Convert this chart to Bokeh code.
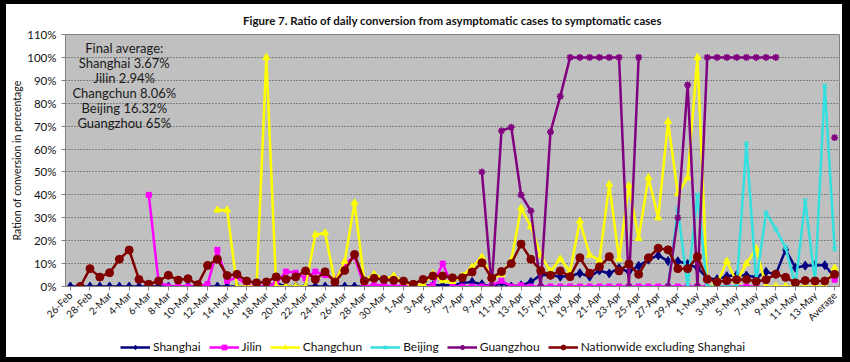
import math
import numpy as np
import pandas as pd
from bokeh.plotting import figure
from bokeh.layouts import column
from bokeh.models import (Range1d, FixedTicker, PrintfTickFormatter, Legend,
                          LegendItem, ColumnDataSource)
from bokeh.core.properties import value
from bokeh.embed import file_html
from bokeh.resources import INLINE

N = None
dates = [f"{d.day}-{d.strftime('%b')}" for d in pd.date_range("2022-02-26", "2022-05-14")]
categories = dates + ["Average"]

shanghai = [0]*21 + [1.5] + [0]*14 + [0.5, 0.5, 0.5, 0.5,
            1.5, 2, 1, 0, 1.5, 0, 0.5, 2,
            5, 5, 4.3, 4.6, 5.8, 4.3, 7, 5.7, 8, 6.4, 9, 11.7, 13.6, 11.1, 11, 9.8, 8.2,
            3.5, 3.2, 4.5, 5, 4.8, 4, 6.4, 5.3, 16, 8.2, 9.1, 9.3, 9.3, 4]

jilin = [N]*8 + [40, 2, 0, 0, 0, 0, 1, 16, 2.4, 4,
         0.5, 0, 0, 1.5, 6.5, 6, 3.5, 6.5, 5, 3,
         10, 13, 0, 0.5, 0.5, 0, 0.5, 0, 0, 0.5,
         10, 0, 0, 0, 0, 0.5, 2.5, 0, 0.5, 0] + [0]*23 + [N]*7 + [2.94]

changchun = [N]*15 + [33.4, 33.4, 0, 0, 0, 100, 0, 0, 0, 0,
             22.6, 23.4, 2, 11, 36.5, 2.5, 5.3, 3.2, 4.6, 2,
             0, 1, 5.6, 2.5, 2.2, 4.6, 8.5, 12.8, 3.5, 5.3,
             11.5, 34.2, 26.2, 13.6, 6.5, 12, 6.5, 28.6, 13.7, 11.5,
             44.6, 12, 44, 21, 47.5, 30, 72, 40.5, 47.5, 100,
             0, 1, 11, 2, 10, 16.5] + [0]*7 + [8.06]

beijing = [N]*61 + [0, 33.7, 0, 40, 0, 0, 0, 0, 62.4, 2, 32.2, 25, 17, 0.5,
                    37.5, 2, 87.5, 16.32]

guangzhou = [N]*42 + [50, 0, 68, 69.5, 40, 33, 0, 67.5, 83, 100, 100, 100, 100,
                      100, 100, 0, 100, N, N, 0, 30, 88, 0] + [100]*8 + [N]*5 + [65]

nationwide = [N, 0, 7.8, 4.1, 6, 11.9, 15.9, 3.1, 1, 2.4,
              4.9, 2.8, 3.4, 0.8, 9.2, 11.9, 4.8, 5.3, 2.4, 1.6,
              2, 4.2, 3.2, 4.2, 6.8, 3.1, 6.4, 2, 7, 14,
              2.4, 3.6, 3.1, 2.7, 2.4, 1, 3.1, 4.6, 4.6, 3.8,
              3.8, 6.3, 10.4, 3.7, 6.5, 10, 18.5, 11.9, 6.9, 4.9,
              6.8, 4.3, 12.6, 5.8, 8.6, 13, 6.8, 9.8, 5.3, 12.5,
              16.7, 16, 7.8, 7.8, 13, 3.2, 2, 2.6, 3, 3.1,
              2.2, 3, 5.4, 4, 1.6, 2.6, 2.4, 2.4, 5.3]

series_names = ["Shanghai", "Jilin", "Changchun", "Beijing", "Guangzhou",
                "Nationwide excluding Shanghai"]
series_values = [shanghai, jilin, changchun, beijing, guangzhou, nationwide]
series_colors = ["#000080", "#FF00FF", "#FFFF00", "#33E0E0", "#800080", "#800000"]
series_markers = ["diamond", "square", "triangle", "x", "asterisk", "circle"]
series_sizes = [9, 5, 7, 6, 7, 8]

annot_lines = ["Final average:", "Shanghai 3.67%", "Jilin 2.94%", "Changchun 8.06%",
               "Beijing 16.32%", "Guangzhou 65%"]

y_ticks = list(range(0, 111, 10))

FONT = "Lato"
n = len(categories)
xs = list(range(n))

fig = figure(width=836, height=330, output_backend="svg", toolbar_location=None,
             x_range=Range1d(-0.5, n - 0.5), y_range=Range1d(0, 110),
             min_border_left=59, min_border_right=3, min_border_top=30,
             min_border_bottom=48,
             background_fill_color="#C0C0C0", border_fill_color="white")

fig.title.text = "Figure 7. Ratio of daily conversion from asymptomatic cases to symptomatic cases"
fig.title.text_font = FONT
fig.title.text_font_size = "11.5px"
fig.title.text_font_style = "bold"
fig.title.align = "center"
fig.title.offset = 9
fig.title.standoff = 15
fig.title.text_color = "#111111"

fig.outline_line_color = "#808080"
fig.xgrid.visible = False
fig.ygrid.grid_line_color = "#404040"
fig.ygrid.grid_line_dash = "1 2"
fig.ygrid.grid_line_width = 1

fig.yaxis.ticker = FixedTicker(ticks=y_ticks)
fig.yaxis.formatter = PrintfTickFormatter(format="%d%%")
fig.yaxis.axis_label = "Ration of conversion in percentage"
fig.yaxis.axis_label_text_font = FONT
fig.yaxis.axis_label_text_font_size = "10.5px"
fig.yaxis.axis_label_text_font_style = "normal"
fig.yaxis.axis_label_text_color = "#111111"
fig.yaxis.axis_label_standoff = 1

fig.xaxis.ticker = FixedTicker(ticks=xs[::2])
fig.xaxis.major_label_overrides = {i: categories[i] for i in xs[::2]}
fig.xaxis.major_label_orientation = math.pi / 4
fig.xaxis.major_label_text_font_size = "10px"

for ax in (fig.xaxis, fig.yaxis):
    ax.axis_line_color = "#808080"
    ax.major_tick_line_color = "#808080"
    ax.major_tick_out = 4
    ax.major_tick_in = 0
    ax.minor_tick_line_color = None
    ax.major_label_text_font = FONT
    ax.major_label_text_color = "#111111"
fig.yaxis.major_label_text_font_size = "11.5px"
fig.yaxis.major_label_standoff = 5
fig.xaxis.major_label_standoff = 3

# legend lives in its own strip below the chart (ranges keep its glyph data out of view)
legfig = figure(width=836, height=23, output_backend="svg", toolbar_location=None,
                x_range=Range1d(1000, 1001), y_range=Range1d(1000, 1001),
                x_axis_location=None, y_axis_location=None, min_border=0,
                outline_line_color=None, background_fill_color="white",
                border_fill_color="white")
legfig.grid.visible = False

items = []
for name, vals, color, marker, size in zip(series_names, series_values, series_colors,
                                           series_markers, series_sizes):
    y = np.array([np.nan if v is None else v for v in vals], dtype=float)
    src = ColumnDataSource(dict(x=xs, y=y))
    lw = 1.6 if marker in ("x", "asterisk") else 1
    fig.line("x", "y", source=src, line_color=color, line_width=2.5)
    fig.scatter("x", "y", source=src, marker=marker, size=size,
                fill_color=color, line_color=color, line_width=lw)
    ln = legfig.line("x", "y", source=src, line_color=color, line_width=2.5)
    sc = legfig.scatter("x", "y", source=src, marker=marker, size=size,
                        fill_color=color, line_color=color, line_width=lw)
    items.append(LegendItem(label=name, renderers=[ln, sc]))

legend = Legend(items=items, orientation="horizontal", location=(55, 3),
                glyph_width=30, glyph_height=12, label_height=12, label_standoff=3,
                spacing=8, padding=0, margin=0, border_line_color=None,
                background_fill_alpha=0, label_text_font=FONT,
                label_text_font_size="12px", label_text_color="#111111")
legfig.add_layout(legend)

annot_x = [5.5] * len(annot_lines)
annot_y = [104 - 6.55 * k for k in range(len(annot_lines))]
fig.text(x=annot_x, y=annot_y, text=annot_lines, text_align="center",
         text_baseline="middle", text_font=value(FONT), text_font_size="13px",
         text_color="#1a1a1a")

p = column(fig, legfig, spacing=0,
           styles={"margin": "4px 0px 0px 6px", "outline": "8px solid black"})

open("out.html", "w").write(file_html(p, INLINE))
